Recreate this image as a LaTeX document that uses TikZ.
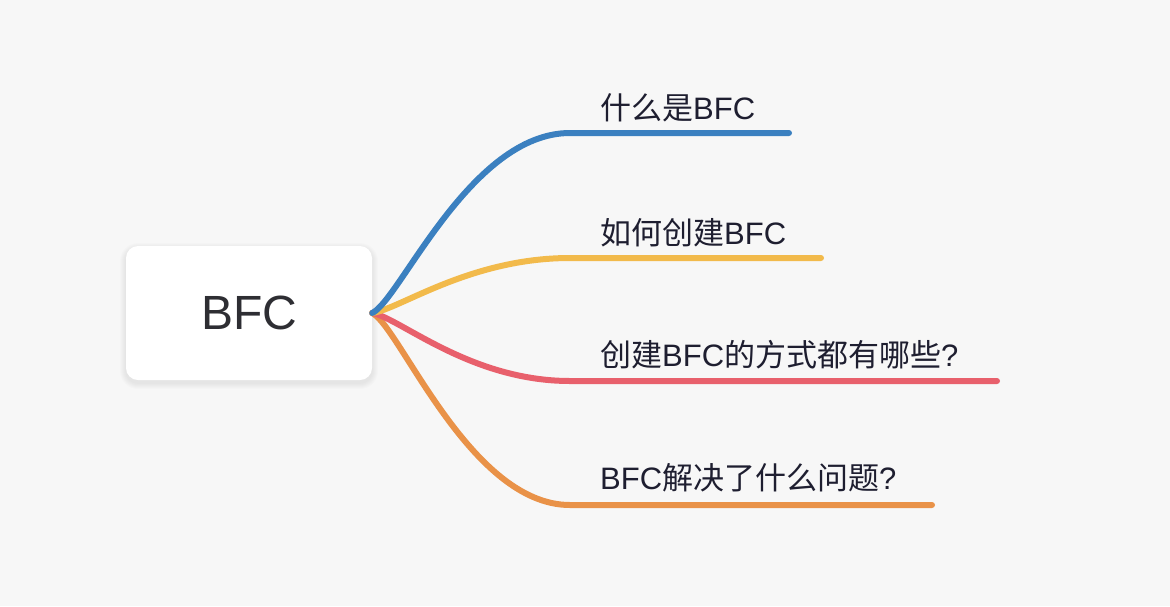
\documentclass[tikz,border=0pt]{standalone}
\usepackage{fontspec}
\setmainfont{Liberation Sans}
\newfontfamily\cjk{Noto Sans CJK SC}
\definecolor{bg}{HTML}{F7F7F7}
\definecolor{txt}{HTML}{1E1E30}
\definecolor{roottxt}{HTML}{2E2E33}
\definecolor{cblue}{HTML}{3B80C0}
\definecolor{cyellow}{HTML}{F2BA4B}
\definecolor{cred}{HTML}{E8606C}
\definecolor{corange}{HTML}{E99248}
\tikzset{
  rootbox/.style={fill=white, rounded corners=12pt, minimum width=246pt, minimum height=134pt,
    inner sep=0pt, text=roottxt, font=\fontsize{48}{48}\selectfont},
  topic/.style={anchor=base west, inner sep=0pt, text=txt, font=\fontsize{31}{31}\selectfont},
  branch/.style={line width=6pt, line cap=round},
  shadowlayer/.style={fill=black, fill opacity=0.012}
}
\begin{document}
\begin{tikzpicture}[x=1pt, y=-1pt]
\useasboundingbox (0,0) rectangle (1170,606);
\fill[bg] (0,0) rectangle (1170,606);
\foreach \r in {1,2,3,4,5,6} {
  \fill[shadowlayer, rounded corners={12pt+\r pt}] (126-\r,246+3-\r) rectangle (372+\r,380+3+\r);
}
\node[rootbox] (root) at (249,313) {BFC};
\node[topic] (t1) at (600,119) {{\cjk 什么是}BFC};
\node[topic] (t2) at (600,244) {{\cjk 如何创建}BFC};
\node[topic] (t3) at (600,366) {{\cjk 创建}BFC{\cjk 的方式都有哪些}?};
\node[topic] (t4) at (600,489) {BFC{\cjk 解决了什么问题}?};
\coordinate (k1) at (570,133); \coordinate (e1) at (789,133);
\coordinate (k2) at (570,258); \coordinate (e2) at (821,258);
\coordinate (k3) at (570,381); \coordinate (e3) at (997,381);
\coordinate (k4) at (570,505); \coordinate (e4) at (932,505);
\draw[branch, corange] (root.east) .. controls (400,327) and (470,505) .. (k4) -- (e4);
\draw[branch, cred] (root.east) .. controls (400,318) and (470,381) .. (k3) -- (e3);
\draw[branch, cyellow] (root.east) .. controls (400,309) and (470,258) .. (k2) -- (e2);
\draw[branch, cblue] (root.east) .. controls (400,300) and (470,133) .. (k1) -- (e1);
\end{tikzpicture}
\end{document}
